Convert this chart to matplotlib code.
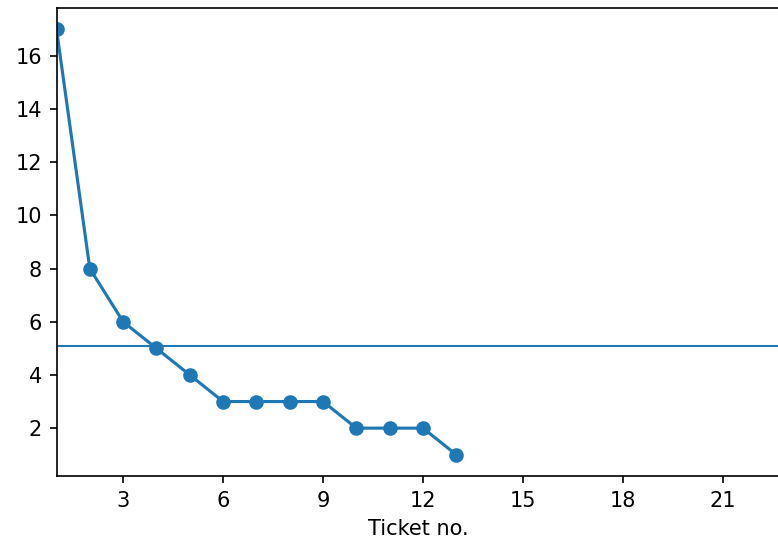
import matplotlib.pyplot as plt

tickets = list(range(1, 14))
counts = [17, 8, 6, 5, 4, 3, 3, 3, 3, 2, 2, 2, 1]
threshold = 5.08

fig = plt.figure(figsize=(778 / 150, 539 / 150), dpi=150)
ax = fig.add_axes([56.5 / 778, 63 / 539, 723 / 778, 468 / 539])
ax.plot(tickets, counts, marker='o')
ax.axhline(threshold, lw=1)
ax.set_xlim(1, 22.7)
ax.set_ylim(0.2, 17.8)
ax.set_xticks([3, 6, 9, 12, 15, 18, 21])
ax.set_yticks([2, 4, 6, 8, 10, 12, 14, 16])
ax.spines['right'].set_visible(False)
ax.set_xlabel('Ticket no.')
fig.savefig('out.png', dpi=150)
